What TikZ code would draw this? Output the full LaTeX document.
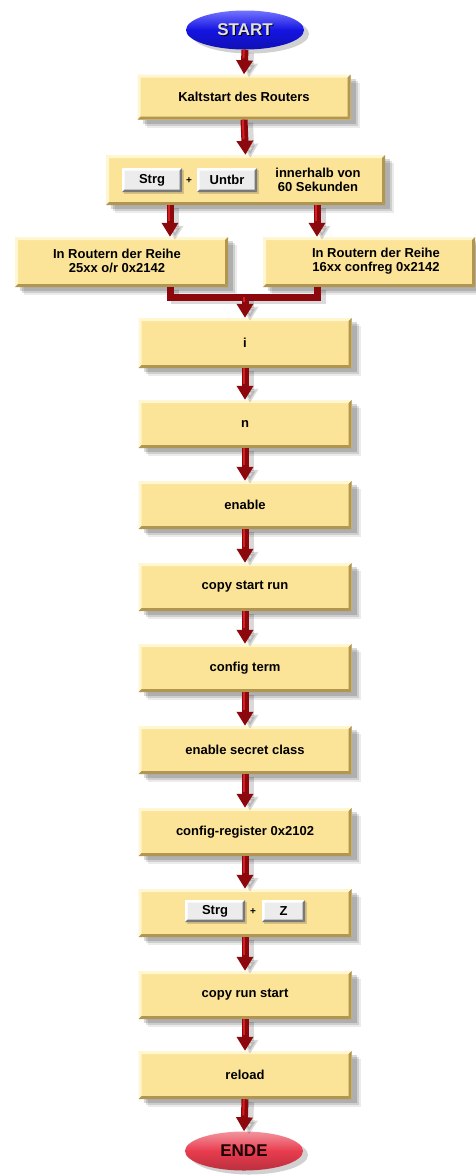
\documentclass[tikz,border=0pt]{standalone}
\usepackage{fontspec}
\setmainfont{Liberation Sans}
\usetikzlibrary{shadows,arrows.meta,calc,positioning,shapes.geometric}

\definecolor{boxfill}{RGB}{251,227,152}
\definecolor{boxlight}{RGB}{255,246,210}
\definecolor{boxdark}{RGB}{176,150,80}
\definecolor{keyfill}{RGB}{236,236,236}
\definecolor{keydark}{RGB}{120,120,120}
\definecolor{arrowred}{RGB}{140,8,12}
\definecolor{arrowhi}{RGB}{215,30,35}
\definecolor{startblue}{RGB}{20,20,225}
\definecolor{endred}{RGB}{232,60,78}

\tikzset{
  x=1pt, y=-1pt,
  every node/.style={font=\bfseries\fontsize{13}{14.5}\selectfont, align=center},
  bevel/.style n args={3}{path picture={
      \fill[#2] (path picture bounding box.north west) -- (path picture bounding box.north east)
        -- ([shift={(-#1,-#1)}]path picture bounding box.north east)
        -- ([shift={(#1,-#1)}]path picture bounding box.north west) -- cycle;
      \fill[#2] (path picture bounding box.north west) -- (path picture bounding box.south west)
        -- ([shift={(#1,#1)}]path picture bounding box.south west)
        -- ([shift={(#1,-#1)}]path picture bounding box.north west) -- cycle;
      \fill[#3] (path picture bounding box.south west) -- (path picture bounding box.south east)
        -- ([shift={(-#1,#1)}]path picture bounding box.south east)
        -- ([shift={(#1,#1)}]path picture bounding box.south west) -- cycle;
      \fill[#3] (path picture bounding box.north east) -- (path picture bounding box.south east)
        -- ([shift={(-#1,#1)}]path picture bounding box.south east)
        -- ([shift={(-#1,-#1)}]path picture bounding box.north east) -- cycle;
  }},
  stepbox/.style={fill=boxfill, minimum width=213pt, minimum height=48pt,
    inner sep=0pt, bevel={3pt}{boxlight}{boxdark},
    preaction={fill=black, opacity=0.08, transform canvas={shift={(9pt,-8pt)}}},
    preaction={fill=black, opacity=0.12, transform canvas={shift={(7pt,-6pt)}}},
    preaction={fill=black, opacity=0.15, transform canvas={shift={(5pt,-4pt)}}}},
  keybox/.style={fill=keyfill, minimum height=24pt, inner sep=0pt,
    bevel={2.5pt}{white}{keydark},
    preaction={fill=black, opacity=0.15, transform canvas={shift={(2pt,-2pt)}}}},
  plussign/.style={font=\bfseries\fontsize{10}{11}\selectfont},
  conn/.style={draw=arrowred, line width=7pt,
    -{Triangle[width=16pt,length=14pt]},
    preaction={draw=black, opacity=0.15, line width=8pt, transform canvas={shift={(5pt,-3pt)}}},
    postaction={draw=arrowhi, line width=2pt, -, shorten >=16pt,
      transform canvas={shift={(-1.2pt,0pt)}}}},
  joinline/.style={draw=arrowred, line width=7pt, line join=miter,
    preaction={draw=black, opacity=0.15, line width=8pt, transform canvas={shift={(5pt,-3pt)}}}},
  terminal/.style={ellipse, minimum width=118pt, minimum height=39pt, inner sep=0pt,
    preaction={fill=black, opacity=0.18, transform canvas={shift={(5pt,-4pt)}}}},
  termtext/.style={font=\bfseries\fontsize{17}{19}\selectfont},
}

\begin{document}
\begin{tikzpicture}
\path[use as bounding box, fill=white] (0,0) rectangle (475,1176);

% terminals
\node[terminal, top color=blue!55!white, bottom color=startblue!80!black,
      middle color=startblue] (start) at (245,30) {};
\node[termtext, text=black] (startshadow) at ([shift={(1pt,-1pt)}]start.center) {START};
\node[termtext, text=black!12] (starttxt) at (start.center) {START};

% main column
\node[stepbox, minimum height=45pt] (kalt) at (244,97) {Kaltstart des Routers};

\node[stepbox, minimum width=279pt, minimum height=50pt] (brk) at (245.5,180) {};
\node[keybox, minimum width=60pt] (k1) at (152,180) {Strg};
\node[plussign] (plus1) at (189,181) {+};
\node[keybox, minimum width=60pt] (k2) at (227,180) {Untbr};
\node[font=\bfseries\fontsize{13}{14}\selectfont] (win) at (318,180) {innerhalb von\\60 Sekunden};

\node[stepbox, minimum width=213pt, minimum height=50pt] (left) at (121.5,262) {};
\node (lefttxt) at (117,261) {In Routern der Reihe\\25xx o/r 0x2142};
\node[stepbox, minimum width=212pt, minimum height=50pt] (right) at (369,262) {};
\node (righttxt) at (376,261) {In Routern der Reihe\\16xx confreg 0x2142};

\node[stepbox, minimum height=50pt] (s1) at (245,343) {i};
\node[stepbox] (s2) at (245,424) {n};
\node[stepbox] (s3) at (245,505) {enable};
\node[stepbox] (s4) at (245,587) {copy start run};
\node[stepbox] (s5) at (245,668) {config term};
\node[stepbox] (s6) at (245,750) {enable secret class};
\node[stepbox] (s7) at (245,832) {config-register 0x2102};
\node[stepbox] (s8) at (245,913) {};
\node[keybox, minimum width=60pt, minimum height=22pt] (k3) at (215,911) {Strg};
\node[plussign] (plus2) at (253,912) {+};
\node[keybox, minimum width=43pt, minimum height=22pt] (k4) at (283.5,911) {Z};
\node[stepbox] (s9) at (245,995) {copy run start};
\node[stepbox] (s10) at (245,1075) {reload};

\node[terminal, top color=endred!55!white, bottom color=endred!80!black,
      middle color=endred] (ende) at (244,1151) {};
\node[termtext, text=black!90!red] (endetxt) at (ende.center) {ENDE};

% branch positions
\coordinate (xL) at (170,0);
\coordinate (xR) at (317,0);
\coordinate (merge) at (245,297);

% connectors
\draw[conn] (start.south) -- (kalt.north);
\draw[conn] (kalt.south) -- (brk.north);
\draw[conn] (brk.south -| xL) -- (left.north -| xL);
\draw[conn] (brk.south -| xR) -- (right.north -| xR);
\draw[joinline] (left.south -| xL) |- (merge) -| (right.south -| xR);
\draw[conn] (merge) -- (s1.north);
\draw[conn] (s1.south) -- (s2.north);
\draw[conn] (s2.south) -- (s3.north);
\draw[conn] (s3.south) -- (s4.north);
\draw[conn] (s4.south) -- (s5.north);
\draw[conn] (s5.south) -- (s6.north);
\draw[conn] (s6.south) -- (s7.north);
\draw[conn] (s7.south) -- (s8.north);
\draw[conn] (s8.south) -- (s9.north);
\draw[conn] (s9.south) -- (s10.north);
\draw[conn] (s10.south) -- (ende.north);
\end{tikzpicture}
\end{document}
